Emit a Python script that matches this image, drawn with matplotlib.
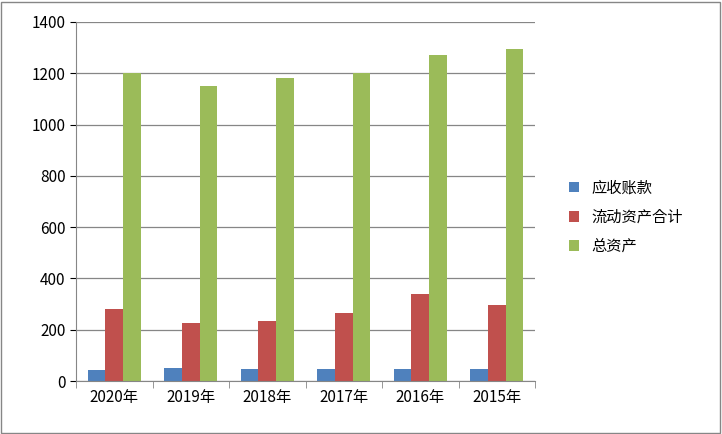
import numpy as np
import matplotlib.pyplot as plt

plt.rcParams["font.family"] = "sans-serif"
plt.rcParams["font.sans-serif"] = ["Noto Sans CJK SC", "Noto Sans CJK JP",
                                   "Noto Sans CJK TC", "DejaVu Sans"]

years = ["2020年", "2019年", "2018年", "2017年", "2016年", "2015年"]
receivables = [42, 50, 45, 45, 45, 45]
current_assets = [280, 225, 233, 265, 340, 295]
total_assets = [1200, 1150, 1180, 1200, 1270, 1295]

fig = plt.figure(figsize=(7.22, 4.34), dpi=100)
ax = fig.add_axes([76 / 722, 53 / 434, 459 / 722, 359 / 434])

x = np.arange(len(years))
w = 0.23
ax.bar(x - w, receivables, w, color="#4f81bd", label="应收账款")
ax.bar(x, current_assets, w, color="#c0504d", label="流动资产合计")
ax.bar(x + w, total_assets, w, color="#9bbb59", label="总资产")

ax.set_xlim(-0.5, len(years) - 0.5)
ax.set_ylim(0, 1400)
ax.set_yticks(range(0, 1401, 200))
ax.set_xticks(x)
ax.set_xticklabels(years, fontsize=11)
ax.tick_params(axis="y", labelsize=11, length=4)
ax.tick_params(axis="x", length=0, pad=6)
ax.set_xticks(np.arange(len(years) + 1) - 0.5, minor=True)
ax.tick_params(axis="x", which="minor", length=5, color="#868686")
ax.grid(axis="y", color="#868686", linewidth=0.9)
ax.set_axisbelow(True)
for s in ["top", "right"]:
    ax.spines[s].set_visible(False)
for s in ["left", "bottom"]:
    ax.spines[s].set_color("#868686")

fig.legend(loc="center left", bbox_to_anchor=(555 / 722, 0.5), frameon=False,
           fontsize=11, handlelength=0.7, handleheight=0.7, labelspacing=0.8)

border = plt.Rectangle((0.002, 0.003), 0.995, 0.993, transform=fig.transFigure,
                       fill=False, edgecolor="#868686", linewidth=1)
fig.patches.append(border)

fig.savefig("out.png", dpi=100)
